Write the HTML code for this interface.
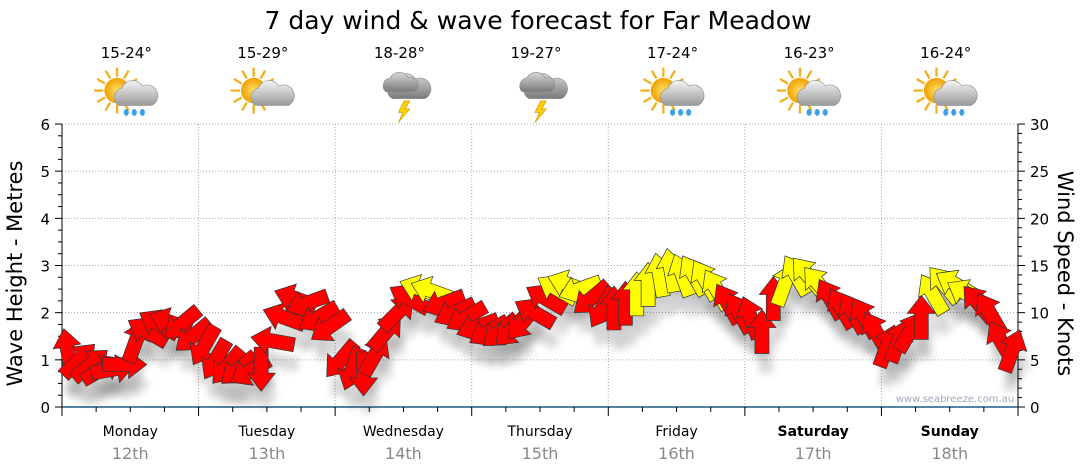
<!DOCTYPE html>
<html><head><meta charset="utf-8"><style>
body{margin:0;background:#fff;font-family:"DejaVu Sans","Liberation Sans",sans-serif}
svg{display:block}
</style></head><body>
<svg id="c" width="1080" height="475" xmlns="http://www.w3.org/2000/svg">
<defs>
<filter id="sh" x="-50%" y="-50%" width="200%" height="200%"><feGaussianBlur stdDeviation="4"/></filter>
<radialGradient id="sun" cx="50%" cy="50%" r="50%"><stop offset="0" stop-color="#ffe066"/><stop offset="1" stop-color="#f0a000"/></radialGradient>
<linearGradient id="cloud" x1="0" y1="0" x2="0" y2="1"><stop offset="0" stop-color="#f4f4f4"/><stop offset="1" stop-color="#9a9a9a"/></linearGradient>
<linearGradient id="dcloud" x1="0" y1="0" x2="0" y2="1"><stop offset="0" stop-color="#d8d8d8"/><stop offset="1" stop-color="#7a7a7a"/></linearGradient>
</defs>
<text x="538" y="29" text-anchor="middle" font-size="25" fill="#000">7 day wind &amp; wave forecast for Far Meadow</text>
<g id="axes"></g>
<g id="icons"></g>
<g id="arrows"></g>
<text x="955" y="402" text-anchor="middle" font-size="10" fill="#a0a8b8">www.seabreeze.com.au</text>
</svg>
<script>
const days=["Monday","Tuesday","Wednesday","Thursday","Friday","Saturday","Sunday"];
const dates=["12th","13th","14th","15th","16th","17th","18th"];
const temps=["15-24°","15-29°","18-28°","19-27°","17-24°","16-23°","16-24°"];
const weather=["rain","cloud","storm","storm","rain","rain","rain"];
const waveTicks=[0,1,2,3,4,5,6];
const windTicks=[0,5,10,15,20,25,30];
// wind speed (knots) every 2 hours, starting 01:00 Monday
const windSpeed=[6,5,4.5,4,4,4.5,7,8,8.8,9,8.8,7.5,
 6.5,5,4.3,4,3.8,4,7,9.5,11.5,11,9.5,8.5,
 5,4,3.5,5.5,8,10,11.5,12.5,12.3,11,10,9.5,
 8.5,8,8,8.2,9,10,11.5,12.5,13,12.5,11.5,10.5,
 10.5,11,12,13,14,14.5,14,14,13.5,12.5,11,10,
 9.5,8,11.5,13,14,14,13,11.5,10.5,10,9.5,8,
 6.5,7,8,9.5,12,13,13,12,11,10,7,6];
// arrow heading (deg, 0=up, clockwise)
const windDir=[350,45,50,60,80,90,20,300,300,290,230,230,
 210,210,220,230,240,180,280,290,290,250,240,235,
 220,200,180,30,40,45,300,290,290,250,245,240,
 250,240,230,225,220,300,300,300,290,250,230,210,
 0,0,0,0,350,350,340,330,330,330,330,330,
 340,0,0,20,330,320,320,330,330,330,330,330,
 20,20,30,0,330,320,300,300,320,330,330,20];
const NS="http://www.w3.org/2000/svg";
const X0=62,X1=1018,Y0=407,Y1=124;
const xH=h=>X0+h/168*(X1-X0);
const yW=m=>Y0-m/6*(Y0-Y1);
const yK=k=>Y0-k/30*(Y0-Y1);
function mk(tag,attrs,parent,txt){const e=document.createElementNS(NS,tag);for(const k in attrs)e.setAttribute(k,attrs[k]);if(txt!==undefined)e.textContent=txt;parent.appendChild(e);return e;}
const ax=document.getElementById('axes');
for(const m of waveTicks){if(m>0){const g=mk('line',{x1:X0,x2:X1,y1:yW(m),y2:yW(m),stroke:'#aaa','stroke-dasharray':'1,2'},ax);

}}
for(let d=1;d<7;d++){const g=mk('line',{x1:xH(d*24),x2:xH(d*24),y1:Y1,y2:Y0,stroke:'#aaa','stroke-dasharray':'1,2'},ax);

}
mk('line',{x1:X0,x2:X0,y1:Y1,y2:Y0,stroke:'#000'},ax);
for(let i=0;i<=24;i++){const m=i/4;mk('line',{x1:X0-(i%4?4:7),x2:X0,y1:yW(m),y2:yW(m),stroke:'#000'},ax);}
for(const m of waveTicks){const t=mk('text',{x:X0-12,y:yW(m)+6,'text-anchor':'end','font-size':15,fill:'#000'},ax,m);

}
mk('line',{x1:X1,x2:X1,y1:Y1,y2:Y0,stroke:'#000'},ax);
for(let k=0;k<=30;k++){mk('line',{x1:X1,x2:X1+(k%5?4:7),y1:yK(k),y2:yK(k),stroke:'#000'},ax);}
for(const k of windTicks){const t=mk('text',{x:X1+12,y:yK(k)+6,'font-size':15,fill:'#000'},ax,k);

}
let t=mk('text',{x:0,y:0,'font-size':21,'text-anchor':'middle',transform:`translate(22,${(Y0+Y1)/2+8}) rotate(-90)`},ax,'Wave Height - Metres');


t=mk('text',{x:0,y:0,'font-size':21,'text-anchor':'middle',transform:`translate(1058,${(Y0+Y1)/2+8}) rotate(90)`},ax,'Wind Speed - Knots');


mk('line',{x1:X0,x2:X1,y1:Y0,y2:Y0,stroke:'#1d5a86','stroke-width':1.5},ax);
for(let h=0;h<=168;h+=6){mk('line',{x1:xH(h),x2:xH(h),y1:Y0,y2:Y0+(h%24?5:9),stroke:'#000'},ax);}
days.forEach((d,i)=>{const cx=xH(i*24+12);
const a=mk('text',{x:cx,y:436,'text-anchor':'middle','font-size':14,fill:'#000','font-weight':i>=5?'bold':'normal'},ax,d);


const b=mk('text',{x:cx,y:459,'text-anchor':'middle','font-size':16,fill:'#888'},ax,dates[i]);


const c=mk('text',{x:cx-4,y:58,'text-anchor':'middle','font-size':15,fill:'#000'},ax,temps[i]);

});
const ic=document.getElementById('icons');
weather.forEach((w,i)=>{const cx=xH(i*24+12)-4;const g=mk('g',{transform:`translate(${cx},94) scale(1.15)`},ic);


if(w!=='storm'){for(let r=0;r<12;r++){const a=r*30*Math.PI/180;mk('line',{x1:-8+Math.cos(a)*12,y1:-3+Math.sin(a)*12,x2:-8+Math.cos(a)*20,y2:-3+Math.sin(a)*20,stroke:'#f0b020','stroke-width':2},g);}
mk('circle',{cx:-8,cy:-3,r:11,fill:'url(#sun)'},g);}
const cf=w==='storm'?'url(#dcloud)':'url(#cloud)';
const oy=w==='storm'?-6:0;
mk('path',{d:`M-6 ${10+oy} a8 8 0 0 1 2-15 a10 10 0 0 1 18-2 a8 8 0 0 1 8 17 z`,fill:cf,stroke:'#888','stroke-width':0.5},g);
if(w==='storm'){mk('path',{d:`M-12 ${4+oy} a7 7 0 0 1 4-12 a9 9 0 0 1 16 0 a6 6 0 0 1 4 12 z`,fill:'url(#dcloud)',stroke:'#888','stroke-width':0.5},g);
mk('path',{d:'M4 6 l-5 10 l4 0 l-4 9 l10 -12 l-4 0 l4 -7 z',fill:'#ffd000',stroke:'#c09000','stroke-width':0.5},g);}
if(w==='rain'){[0,7,14].forEach(dx=>mk('ellipse',{cx:dx,cy:16,rx:2.2,ry:3,fill:'#3aa0e8'},g));}
});
const ar=document.getElementById('arrows');
const shape='M0,-22 L14,-4 L7,-4 L7,22 L-7,22 L-7,-4 L-14,-4 Z';
windSpeed.forEach((s,i)=>{const x=xH(i*2+1),y=yK(s);
const sh=mk('path',{d:shape,fill:'#000',opacity:0.15,filter:'url(#sh)',transform:`translate(${x+4},${y+20}) rotate(${windDir[i]})`},ar);

});
windSpeed.forEach((s,i)=>{const x=xH(i*2+1),y=yK(s);
const p=mk('path',{d:shape,fill:s>=12?'#ffff00':'#ff0000',stroke:'#333','stroke-width':0.7,transform:`translate(${x},${y}) rotate(${windDir[i]})`},ar);

});
</script>
</body></html>
